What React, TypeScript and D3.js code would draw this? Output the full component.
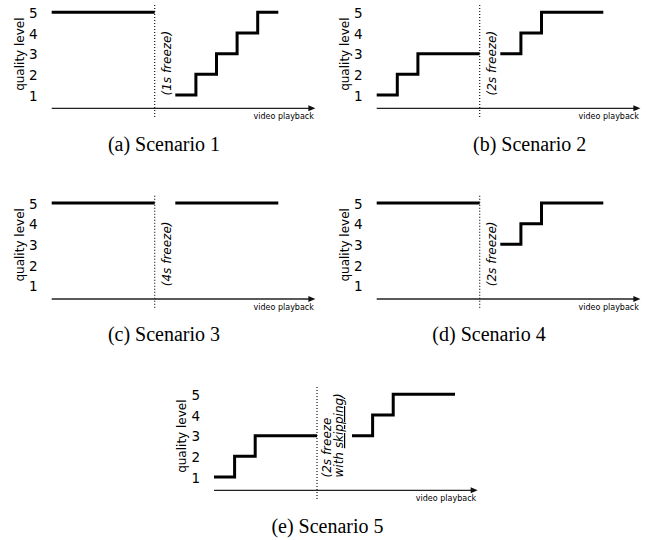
import * as d3 from "d3";

// quality levels on the y axis
const levels = [1, 2, 3, 4, 5];

// step points (t = playback time units, q = quality level), before and after the freeze
const s1Before = [{ t: 0, q: 5 }, { t: 5, q: 5 }];
const s1After = [{ t: 6, q: 1 }, { t: 7, q: 2 }, { t: 8, q: 3 }, { t: 9, q: 4 }, { t: 10, q: 5 }, { t: 11, q: 5 }];
const s2Before = [{ t: 0, q: 1 }, { t: 1, q: 2 }, { t: 2, q: 3 }, { t: 5, q: 3 }];
const s2After = [{ t: 6, q: 3 }, { t: 7, q: 4 }, { t: 8, q: 5 }, { t: 11, q: 5 }];
const s3Before = [{ t: 0, q: 5 }, { t: 5, q: 5 }];
const s3After = [{ t: 6, q: 5 }, { t: 11, q: 5 }];
const s4Before = [{ t: 0, q: 5 }, { t: 5, q: 5 }];
const s4After = [{ t: 6, q: 3 }, { t: 7, q: 4 }, { t: 8, q: 5 }, { t: 11, q: 5 }];
const s5Before = [{ t: 0, q: 1 }, { t: 1, q: 2 }, { t: 2, q: 3 }, { t: 5, q: 3 }];
const s5After = [{ t: 6.7, q: 3 }, { t: 7.7, q: 4 }, { t: 8.7, q: 5 }, { t: 11.7, q: 5 }];

const freezeAt = [5, 5, 5, 5, 5];
const freezeLabels = [["(1s freeze)"], ["(2s freeze)"], ["(4s freeze)"], ["(2s freeze)"], ["(2s freeze", "with skipping)"]];
const captions = ["(a) Scenario 1", "(b) Scenario 2", "(c) Scenario 3", "(d) Scenario 4", "(e) Scenario 5"];

const panels = [
  { before: s1Before, after: s1After, dx: 51.7, dy: 0, capX: 164 },
  { before: s2Before, after: s2After, dx: 376.7, dy: 0, capX: 529.7 },
  { before: s3Before, after: s3After, dx: 51.7, dy: 190.7, capX: 164 },
  { before: s4Before, after: s4After, dx: 376.7, dy: 190.7, capX: 489 },
  { before: s5Before, after: s5After, dx: 214, dy: 382, capX: 327.5 },
];

const sans = "DejaVu Sans, sans-serif";
const serif = "Liberation Serif, Times New Roman, serif";

function Panel({ p, i }) {
  const x = d3.scaleLinear().domain([0, 11]).range([0, 226.6]);
  const y = d3.scaleLinear().domain([1, 5]).range([95, 12.3]);
  const axisY = y(1) + 13.3;
  const axisEnd = x(12.8);
  const line = d3
    .line<{ t: number; q: number }>()
    .x((d) => x(d.t))
    .y((d) => y(d.q))
    .curve(d3.curveStepAfter);
  const fx = x(freezeAt[i]);
  const lbl = freezeLabels[i];

  return (
    <g transform={`translate(${p.dx},${p.dy})`}>
      {/* y label and ticks */}
      <text
        transform={`translate(-27.7,${(y(5) + y(1)) / 2 + 0.5}) rotate(-90)`}
        textAnchor="middle"
        fontFamily={sans}
        fontSize={12}
      >
        quality level
      </text>
      {levels.map((v) => (
        <text key={v} x={-14} y={y(v) + 1} dy="0.35em" textAnchor="end" fontFamily={sans} fontSize={13.5}>
          {v}
        </text>
      ))}
      {/* x axis with arrow */}
      <line x1={0} x2={axisEnd - 5} y1={axisY} y2={axisY} stroke="#222" strokeWidth={1.3} />
      <path d={`M${axisEnd - 7},${axisY - 3}L${axisEnd},${axisY}L${axisEnd - 7},${axisY + 3}Z`} fill="#111" />
      <text x={axisEnd - 1.5} y={axisY + 10.8} textAnchor="end" fontFamily={sans} fontSize={8}>
        video playback
      </text>
      {/* freeze marker */}
      <line x1={fx} x2={fx} y1={5} y2={118} stroke="#111" strokeWidth={1.2} strokeDasharray="1,2" />
      {lbl.map((s, k) => (
        <text
          key={k}
          transform={`translate(${fx + (lbl.length > 1 ? 14 + k * 12 : 16.2)},95.5) rotate(-90)`}
          fontFamily={sans}
          fontStyle="italic"
          fontSize={12}
        >
          {k === 1 ? (
            <>
              {"with "}
              <tspan textDecoration="underline">skipping</tspan>
              {")"}
            </>
          ) : (
            s
          )}
        </text>
      ))}
      {/* quality steps */}
      <path d={line(p.before) || ""} fill="none" stroke="#000" strokeWidth={3} strokeLinejoin="miter" />
      <path d={line(p.after) || ""} fill="none" stroke="#000" strokeWidth={3} strokeLinejoin="miter" />
      {/* caption */}
      <text x={p.capX - p.dx} y={150.5} textAnchor="middle" fontFamily={serif} fontSize={20}>
        {captions[i]}
      </text>
    </g>
  );
}

export default function App() {
  return (
    <svg width={651} height={540} style={{ position: "absolute", left: 0, top: 0, background: "#fff" }}>
      {panels.map((p, i) => (
        <Panel key={i} p={p} i={i} />
      ))}
    </svg>
  );
}
